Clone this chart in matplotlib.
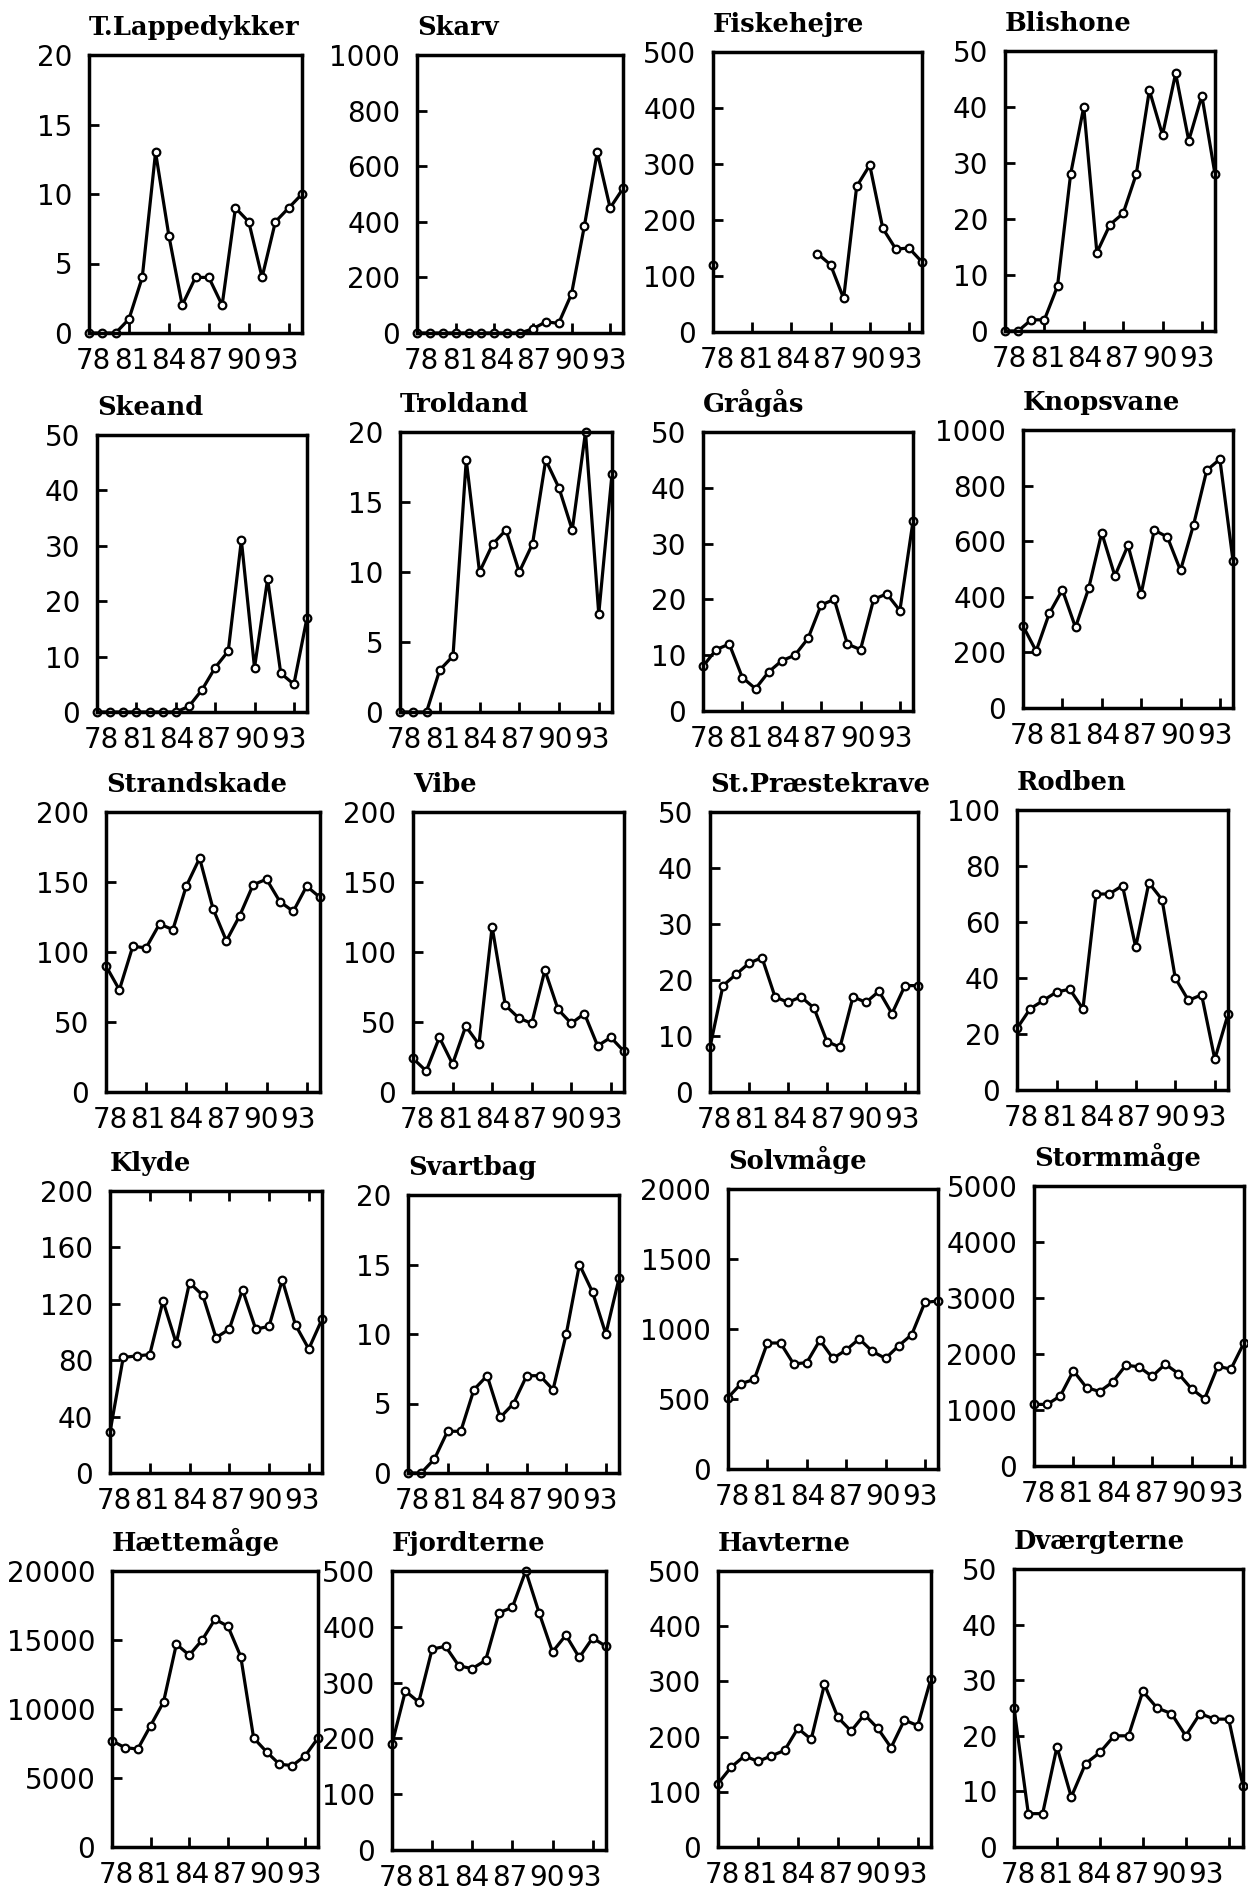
import numpy as np
import matplotlib
matplotlib.use("Agg")
import matplotlib.pyplot as plt
from matplotlib.transforms import offset_copy

years = list(range(78, 95))
xtick_pos = [81, 84, 87, 90, 93]
xtick_labels = ["78", "81", "84", "87", "90", "93"]
nan = np.nan

t_lappedykker = [0, 0, 0, 1, 4, 13, 7, 2, 4, 4, 2, 9, 8, 4, 8, 9, 10]
skarv = [0, 0, 0, 0, 0, 0, 0, 0, 0, 15, 40, 35, 140, 385, 650, 450, 520]
fiskehejre = [120, nan, nan, nan, nan, nan, nan, nan, 140, 120, 60, 260, 298, 185, 148, 150, 125]
blishone = [0, 0, 2, 2, 8, 28, 40, 14, 19, 21, 28, 43, 35, 46, 34, 42, 28]
skeand = [0, 0, 0, 0, 0, 0, 0, 1, 4, 8, 11, 31, 8, 24, 7, 5, 17]
troldand = [0, 0, 0, 3, 4, 18, 10, 12, 13, 10, 12, 18, 16, 13, 20, 7, 17]
gragas = [8, 11, 12, 6, 4, 7, 9, 10, 13, 19, 20, 12, 11, 20, 21, 18, 34]
knopsvane = [295, 205, 340, 425, 290, 430, 630, 475, 585, 410, 640, 615, 495, 660, 855, 895, 530]
strandskade = [90, 73, 104, 103, 120, 116, 147, 167, 131, 108, 126, 148, 152, 136, 129, 147, 139]
vibe = [24, 15, 39, 20, 47, 34, 118, 62, 53, 49, 87, 59, 49, 56, 33, 39, 29]
st_praestekrave = [8, 19, 21, 23, 24, 17, 16, 17, 15, 9, 8, 17, 16, 18, 14, 19, 19]
rodben = [22, 29, 32, 35, 36, 29, 70, 70, 73, 51, 74, 68, 40, 32, 34, 11, 27]
klyde = [29, 82, 83, 84, 122, 92, 135, 126, 96, 102, 130, 102, 104, 137, 105, 88, 109]
svartbag = [0, 0, 1, 3, 3, 6, 7, 4, 5, 7, 7, 6, 10, 15, 13, 10, 14]
solvmage = [510, 610, 640, 900, 900, 750, 760, 920, 790, 850, 930, 840, 790, 880, 960, 1190, 1200]
stormmage = [1100, 1100, 1250, 1700, 1400, 1330, 1500, 1800, 1770, 1600, 1820, 1650, 1380, 1200, 1780, 1730, 2200]
haettemage = [7700, 7200, 7100, 8800, 10500, 14700, 13900, 15000, 16500, 16000, 13800, 7900, 6900, 6000, 5900, 6600, 7900]
fjordterne = [190, 285, 265, 360, 365, 330, 325, 340, 425, 435, 500, 425, 355, 385, 345, 380, 365]
havterne = [115, 145, 165, 155, 165, 175, 215, 195, 295, 235, 210, 240, 215, 180, 230, 220, 305]
dvaergterne = [25, 6, 6, 18, 9, 15, 17, 20, 20, 28, 25, 24, 20, 24, 23, 23, 11]

titles = ["T.Lappedykker", "Skarv", "Fiskehejre", "Blishone",
          "Skeand", "Troldand", "Grågås", "Knopsvane",
          "Strandskade", "Vibe", "St.Præstekrave", "Rodben",
          "Klyde", "Svartbag", "Solvmåge", "Stormmåge",
          "Hættemåge", "Fjordterne", "Havterne", "Dværgterne"]
series = [t_lappedykker, skarv, fiskehejre, blishone,
          skeand, troldand, gragas, knopsvane,
          strandskade, vibe, st_praestekrave, rodben,
          klyde, svartbag, solvmage, stormmage,
          haettemage, fjordterne, havterne, dvaergterne]
ymax = [20, 1000, 500, 50, 50, 20, 50, 1000, 200, 200, 50, 100,
        200, 20, 2000, 5000, 20000, 500, 500, 50]
ystep = [5, 200, 100, 10, 10, 5, 10, 200, 50, 50, 10, 20,
         40, 5, 500, 1000, 5000, 100, 100, 10]

# panel boxes in pixels: left, top, right, bottom
boxes = [(89, 55, 302, 333), (417, 55, 623, 333), (713, 52, 922, 332), (1005, 51, 1215, 331),
         (97, 435, 307, 712), (400, 432, 612, 712), (703, 432, 913, 711), (1023, 430, 1233, 708),
         (106, 812, 320, 1092), (413, 812, 624, 1092), (710, 812, 918, 1092), (1017, 810, 1228, 1090),
         (110, 1191, 322, 1473), (408, 1195, 619, 1473), (728, 1189, 938, 1469), (1034, 1186, 1244, 1466),
         (112, 1571, 318, 1847), (392, 1571, 606, 1850), (718, 1571, 931, 1847), (1014, 1569, 1243, 1847)]

W, H = 1248, 1891
PT = 72 / 100
fig = plt.figure(figsize=(W / 100, H / 100), dpi=100)
fig.patch.set_facecolor("white")

tick_font = dict(family="DejaVu Sans", size=20)
for i, (title, vals, ym, ys, box) in enumerate(zip(titles, series, ymax, ystep, boxes)):
    l, t, r, b = box
    ax = fig.add_axes([l / W, 1 - b / H, (r - l) / W, (b - t) / H])
    ax.plot(years, vals, color="black", lw=2.3, marker="o", ms=5.5, mfc="white",
            mec="black", mew=1.6, clip_on=False, zorder=2)
    ax.set_xlim(78, 94)
    ax.set_ylim(0, ym)
    for s in ax.spines.values():
        s.set_linewidth(2.5)
        s.set_zorder(3)
    ax.set_xticks(xtick_pos)
    ax.set_xticklabels([])
    yt = np.arange(0, ym + ys / 2, ys)
    ax.set_yticks(yt)
    ax.set_yticklabels([str(int(v)) for v in yt], fontdict=tick_font)
    ax.tick_params(axis="both", direction="in", length=7, width=2.0, pad=12,
                   right=False, color="black")
    ax.tick_params(axis="x", top=(title == "Klyde"))
    # x tick labels: compact row under the axis
    for j, lab in enumerate(xtick_labels):
        tr = offset_copy(ax.transAxes, fig=fig, x=(-14 + 18.75 + j * 37.5) * PT,
                         y=-14 * PT, units="points")
        ax.text(0, 0, lab, transform=tr, ha="center", va="top", **tick_font)
    ax.text(0, 1, title, transform=offset_copy(ax.transAxes, fig=fig, x=0, y=20 * PT, units="points"),
            ha="left", va="baseline", fontsize=18.5, fontweight="bold", family="DejaVu Serif")

fig.savefig("out.png", dpi=100, facecolor="white")
